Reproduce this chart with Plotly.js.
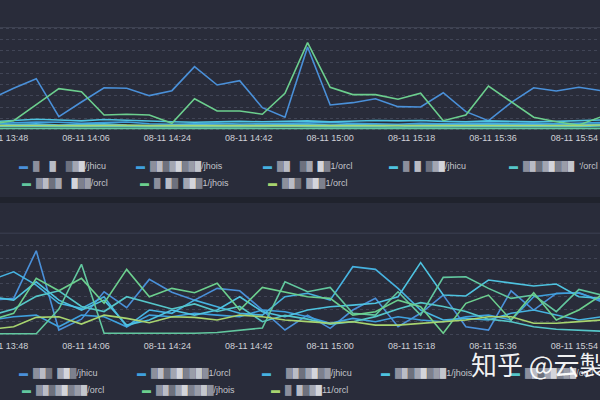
<!DOCTYPE html>
<html>
<head>
<meta charset="utf-8">
<script src="https://cdn.plot.ly/plotly-3.0.1.min.js"></script>
<style>html,body{margin:0;padding:0;background:#292c3a;}#chart{width:600px;height:400px;}</style>
</head>
<body>
<div id="chart"></div>
<script>
// ---------- DATA ----------
const times = [
  '2023-08-11 13:45','2023-08-11 13:50','2023-08-11 13:55','2023-08-11 14:00','2023-08-11 14:05',
  '2023-08-11 14:10','2023-08-11 14:15','2023-08-11 14:20','2023-08-11 14:25','2023-08-11 14:30',
  '2023-08-11 14:35','2023-08-11 14:40','2023-08-11 14:45','2023-08-11 14:50','2023-08-11 14:55',
  '2023-08-11 15:00','2023-08-11 15:05','2023-08-11 15:10','2023-08-11 15:15','2023-08-11 15:20',
  '2023-08-11 15:25','2023-08-11 15:30','2023-08-11 15:35','2023-08-11 15:40','2023-08-11 15:45',
  '2023-08-11 15:50','2023-08-11 15:55','2023-08-11 16:00'
];
const tickTimes = ['2023-08-11 13:48','2023-08-11 14:06','2023-08-11 14:24','2023-08-11 14:42',
                   '2023-08-11 15:00','2023-08-11 15:18','2023-08-11 15:36','2023-08-11 15:54'];

// top panel series
const top1 = [27.4,36.8,45.3,11.7,24.7,37.3,36.8,30.3,34.7,55.9,39.7,43.5,19.7,11.2,73.3,22.1,24.1,27.6,20.6,20.3,32.9,16.2,8.2,24.1,37.3,34.4,37.7,34.7];
const top2 = [5.5,6.2,7.0,6.8,5.8,6.5,7.0,5.5,5.0,5.4,5.8,5.2,5.5,5.8,6.2,6.6,5.8,5.4,5.0,5.8,5.4,5.8,6.2,5.8,6.2,5.4,5.8,6.6];
const top3 = [4.2,4.8,5.4,4.4,4.8,5.4,4.4,4.0,4.4,4.8,4.4,4.0,4.4,4.8,5.2,4.4,4.8,4.4,4.0,4.4,4.4,4.8,5.2,4.8,4.4,4.4,4.8,5.2];
const top4 = [7.2,8.4,9.4,8.8,8.0,9.2,8.4,7.6,7.2,6.8,7.2,7.6,7.2,7.6,8.0,7.2,8.0,8.4,8.0,8.4,7.6,7.2,8.0,7.6,7.2,7.6,8.0,8.8];
const top5 = [3.2,3.6,3.4,3.0,3.2,3.6,3.2,2.8,2.6,2.8,3.2,2.8,3.2,3.6,3.2,2.8,3.2,2.8,2.6,3.2,2.8,3.2,3.2,2.8,3.2,2.8,3.2,3.6];
const top6 = [1.4,1.4,1.8,1.4,1.4,1.4,1.2,1.4,1.4,1.4,1.2,1.4,1.4,1.4,1.6,1.4,1.4,1.4,1.2,1.4,1.4,1.4,1.4,1.4,1.4,1.4,1.4,1.4];
const top7 = [5.3,8.2,22.3,36.5,33.8,13.2,13.9,13.2,5.9,27.6,16.8,16.8,13.9,32.4,77.1,37.7,31.2,31.2,27.1,32.4,8.2,13.2,38.8,25.0,11.2,7.3,4.4,11.7];
const top8 = [4.0,4.2,4.4,4.0,3.8,4.2,4.2,3.8,3.8,4.0,4.2,3.8,4.0,4.2,3.8,4.0,4.2,3.8,3.6,3.8,4.0,4.2,3.8,3.8,4.0,4.2,4.0,4.4];

// bottom panel series
const bot1 = [27,28.4,66,3.4,12,33.6,21,43.4,33.2,27,36.3,34.4,19.2,3.4,15.2,4.7,19.2,28.4,6,16.6,31,6,3.4,34.4,19.2,32.4,32.4,27];
const bot2 = [11.3,13.9,15.2,6,15.2,13.9,6,15.2,13.9,16.6,15.2,13.9,19.2,17.9,13.9,8.7,12.6,9.9,13.9,11.3,9.9,13.9,15.2,11.3,29.7,32,33,25.7];
const bot3 = [42.9,49.4,38.9,24.5,20.5,29.7,6,19.2,16.6,27,21.8,16.6,15.2,29.7,32.4,27,53.4,51.3,36.3,19.2,11.3,12.6,11.3,16.6,19.2,15.2,11.3,13.9];
const bot4 = [29.7,27,41.5,27,19.2,27,7.3,11.3,19.2,15.2,19.2,29.7,17.9,13.9,19.2,21.8,23.1,24.5,29.7,56.6,31,30.3,42.9,40.8,38.2,39.7,29.7,28.4];
const bot5 = [15,20,30,34.4,22,18,29.7,25,20,24,18,22,10,15,12,8,10,14,20,25,22,18,12,10,6,4,3,2.5];
const bot6 = [0.5,0.5,0.5,20,55.3,0.8,0.8,0.8,0.8,0.8,1.5,3,5,41.5,33.6,37,16.6,15.2,33.6,15.2,45,45.5,36.3,28.4,31,17.9,35.5,31];
const bot7 = [11.3,16.6,44.2,34.4,44.2,24.5,51.3,29.7,36.3,32.9,40.3,19.2,37.1,33.6,29.7,28.4,15.2,17.9,27,21.8,0.8,24.5,31,11.3,32.9,11.3,19.2,31];
const bot8 = [4,6,13.4,13.9,8.1,15.2,12.6,9.2,13.9,13.4,11.3,15.2,13.9,11.3,10,8.7,9.9,7.3,7.3,8.7,9.9,11.3,13.9,13.9,8.7,8.7,10,11.3];

// legend labels (names are pixelated in the source; blocks stand for the mosaic)
const topNames  = ['/jhicu','/jhois','1/orcl','/jhicu',"'/orcl",'/orcl','1/jhois','1/orcl'];
const topMasks  = ['█  █  ███','████████','██  ██ ██','█ █ ███','████████ ','████  ███','█ ██ ███','███ ███'];
const botNames  = ['/jhicu','1/orcl','/jhicu','1/jhois','/orcl','/orcl','/jhois','11/orcl'];
const botMasks  = ['███ ███','█████████','  ███████','████████','████████','████████','█████████','█ ████'];
const watermark = '知乎 @云製';

// ---------- STYLE ----------
const colors = ['#4a90d9','#3fa0dd','#46b2e0','#4ec3e0','#55c6c9','#62c79f','#6ccf8e','#a8d46f'];
const topSeries = [top1, top2, top3, top4, top5, top6, top7, top8];
const botSeries = [bot1, bot2, bot3, bot4, bot5, bot6, bot7, bot8];
const shades = ['#8c8f9c','#b9bcc5','#6e717e','#a3a6b1','#d3d5db','#7d808d','#9a9da8','#c4c6ce'];

const traces = [];
topSeries.forEach((s, i) => traces.push({
  x: times, y: s, type: 'scatter', mode: 'lines', xaxis: 'x', yaxis: 'y',
  line: {color: colors[i], width: 1.6}, name: topNames[i], showlegend: false, hoverinfo: 'skip'
}));
botSeries.forEach((s, i) => traces.push({
  x: times, y: s, type: 'scatter', mode: 'lines', xaxis: 'x2', yaxis: 'y2',
  line: {color: colors[i], width: 1.6}, name: botNames[i], showlegend: false, hoverinfo: 'skip'
}));

function legendLabel(color, mask, suffix) {
  let s = '<span style="color:' + color + '">▬</span>\u00a0\u00a0';
  let k = 0;
  for (const ch of mask) {
    if (ch === ' ') s += '\u00a0\u00a0';
    else { s += '<span style="color:' + shades[k % shades.length] + '">█</span>'; k++; }
  }
  return s + suffix;
}

const W = 600, H = 400;
const topPos = [[20.7,166],[137.7,166],[265,166],[391,166],[511,166],[24,183],[141.7,183],[270,183]];
const botPos = [[20.7,373],[139.3,373],[264.3,373],[382.7,373],[513.3,373],[24,390],[144,390],[272.7,390]];
const annotations = [];
function addLegend(names, masks, pos) {
  names.forEach((n, i) => annotations.push({
    xref: 'paper', yref: 'paper', x: (pos[i][0] - 4) / W, y: 1 - pos[i][1] / H,
    xanchor: 'left', yanchor: 'middle', showarrow: false,
    text: legendLabel(colors[i], masks[i], n),
    font: {family: 'Liberation Sans, DejaVu Sans, sans-serif', size: 9, color: '#c4c6cc'}
  }));
}
addLegend(topNames, topMasks, topPos);
addLegend(botNames, botMasks, botPos);
annotations.push({
  xref: 'paper', yref: 'paper', x: 469 / W, y: 1 - 363 / H, xanchor: 'left', yanchor: 'middle',
  showarrow: false, text: watermark,
  font: {family: 'Noto Sans CJK SC, sans-serif', size: 26, color: 'rgba(255,255,255,0.95)'}
});

const xCommon = {
  type: 'date', range: ['2023-08-11 13:46:59', '2023-08-11 15:59:40'],
  tickmode: 'array', tickvals: tickTimes, tickformat: '%m-%d %H:%M',
  showgrid: false, zeroline: false, showline: false, ticks: '',
  ticklabeloverflow: 'allow',
  tickfont: {family: 'Liberation Sans, sans-serif', size: 9, color: '#cfd1d7'}
};
const yCommon = {
  showticklabels: false, zeroline: false, showline: false, ticks: '',
  dtick: 10, tick0: 0, gridcolor: '#414556', griddash: '3px,3px', gridwidth: 1
};

const layout = {
  width: W, height: H, margin: {l: 0, r: 0, t: 0, b: 0},
  paper_bgcolor: '#292c3a', plot_bgcolor: '#292c3a', showlegend: false,
  xaxis: Object.assign({}, xCommon, {anchor: 'y', domain: [0, 1]}),
  yaxis: Object.assign({}, yCommon, {domain: [0.67225, 0.93275], range: [-1, 91]}),
  xaxis2: Object.assign({}, xCommon, {anchor: 'y2', domain: [0, 1], ticklabelstandoff: 3}),
  yaxis2: Object.assign({}, yCommon, {domain: [0.161, 0.419], range: [-1, 80.5]}),
  annotations: annotations,
  shapes: [
    {type: 'rect', xref: 'paper', yref: 'paper', x0: 0, x1: 1, y0: 1 - 203 / H, y1: 1 - 197 / H,
     fillcolor: '#20232d', line: {width: 0}, layer: 'below'},
    {type: 'line', xref: 'paper', yref: 'y', x0: 0, x1: 1, y0: 90.5, y1: 90.5,
     line: {color: '#3e4252', width: 1}, layer: 'below'},
    {type: 'line', xref: 'paper', yref: 'y2', x0: 0, x1: 1, y0: 80, y1: 80,
     line: {color: '#42465a', width: 1}, layer: 'below'}
  ]
};

Plotly.newPlot('chart', traces, layout, {displayModeBar: false, staticPlot: true});
</script>
</body>
</html>
